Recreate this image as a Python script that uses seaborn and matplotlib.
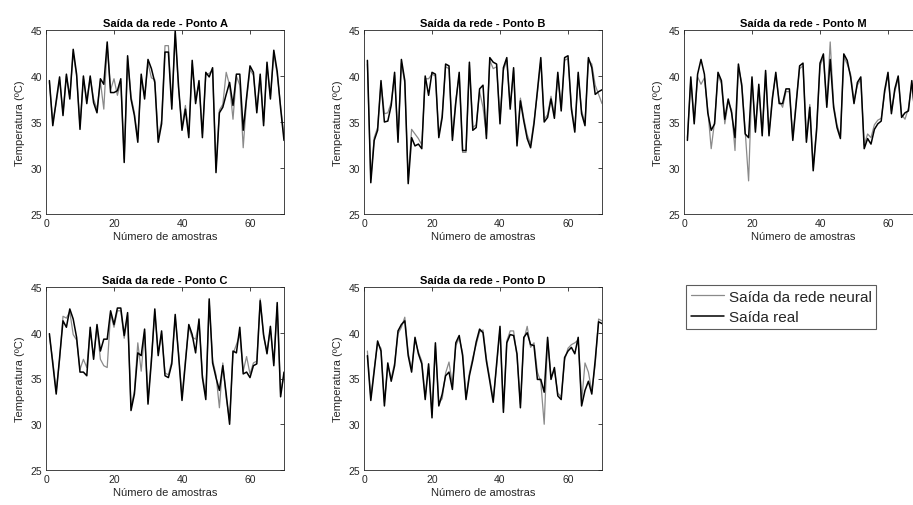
import matplotlib
matplotlib.use("Agg")
import matplotlib.pyplot as plt
import seaborn as sns

sns.set_style("white")
plt.rcParams['font.family'] = ['Liberation Sans', 'DejaVu Sans']

samples = list(range(1, 71))

real_A = [39.5, 34.6, 37.3, 39.9, 35.7, 40.2, 37.5, 42.9, 40.2, 34.2,
          40.0, 37.0, 40.0, 37.1, 36.0, 39.7, 39.1, 43.7, 38.2, 38.2,
          38.4, 39.7, 30.6, 42.2, 37.5, 35.7, 32.8, 40.2, 37.5, 41.8,
          40.8, 39.3, 32.8, 34.8, 42.6, 42.6, 36.4, 44.9, 38.8, 34.1,
          36.4, 33.3, 41.7, 37.0, 39.5, 33.3, 40.4, 39.9, 40.9, 29.5,
          36.0, 36.6, 38.0, 39.3, 36.8, 40.2, 40.2, 34.1, 37.7, 41.1,
          40.4, 36.0, 40.2, 34.6, 41.5, 37.5, 42.8, 40.5, 36.5, 33.0]
rede_A = [39.3, 35.0, 37.0, 39.6, 36.0, 40.0, 37.8, 42.5, 40.0, 34.6,
          39.7, 37.4, 39.8, 37.5, 36.4, 39.4, 36.4, 43.3, 38.5, 39.7,
          37.9, 39.4, 31.0, 41.9, 37.8, 36.0, 33.2, 39.8, 37.8, 41.4,
          39.8, 39.6, 33.2, 35.2, 43.3, 43.3, 36.8, 44.6, 38.5, 34.5,
          36.8, 33.7, 41.3, 37.4, 39.2, 33.7, 40.1, 40.3, 40.6, 30.0,
          36.3, 36.9, 40.4, 39.0, 35.3, 40.0, 39.0, 32.2, 37.4, 40.7,
          40.1, 36.4, 39.9, 35.0, 41.1, 37.8, 42.4, 40.2, 36.8, 33.4]

real_B = [41.7, 28.4, 33.0, 34.1, 39.5, 35.0, 35.1, 36.8, 40.4, 32.8,
          41.8, 39.5, 28.3, 33.3, 32.4, 32.6, 32.1, 40.0, 37.9, 40.4,
          40.2, 33.3, 35.5, 41.3, 41.1, 33.0, 37.1, 40.4, 31.9, 31.9,
          41.5, 34.1, 34.4, 38.6, 39.0, 33.2, 42.0, 41.5, 41.3, 34.8,
          40.9, 42.0, 36.4, 40.9, 32.4, 37.3, 35.1, 33.2, 32.2, 34.8,
          38.4, 42.0, 35.0, 35.5, 37.5, 35.4, 40.4, 36.2, 42.0, 42.2,
          36.4, 33.9, 40.4, 35.9, 34.6, 42.0, 40.9, 38.0, 38.3, 38.5]
rede_B = [41.3, 28.8, 33.3, 34.4, 39.2, 35.9, 36.0, 37.1, 40.1, 33.2,
          41.4, 39.2, 28.7, 34.2, 33.7, 33.2, 32.5, 39.7, 39.7, 40.2,
          40.0, 33.6, 35.8, 41.0, 40.8, 33.4, 37.4, 40.1, 31.7, 31.7,
          41.2, 34.4, 34.7, 38.3, 36.6, 33.6, 41.7, 40.8, 41.0, 35.2,
          40.6, 41.7, 36.7, 40.6, 32.8, 37.6, 35.4, 33.6, 32.6, 35.1,
          38.1, 41.7, 35.3, 35.8, 37.8, 35.7, 40.1, 36.5, 41.7, 41.9,
          36.7, 34.2, 40.1, 36.2, 34.9, 41.7, 41.3, 39.0, 38.0, 37.0]

real_M = [33.0, 39.9, 34.8, 40.2, 41.8, 40.2, 36.0, 34.1, 34.8, 40.4,
          39.5, 35.3, 37.5, 36.0, 33.3, 41.3, 38.9, 33.7, 33.3, 39.9,
          33.9, 39.1, 33.5, 40.6, 33.5, 37.5, 40.4, 37.0, 37.0, 38.6,
          38.6, 33.0, 37.0, 41.1, 41.4, 32.8, 36.6, 29.7, 34.1, 41.4,
          42.4, 36.6, 41.8, 36.6, 34.4, 33.2, 42.4, 41.7, 39.9, 37.0,
          39.3, 39.9, 32.1, 33.2, 32.6, 34.2, 34.8, 35.1, 38.4, 40.4,
          35.9, 38.6, 40.0, 35.5, 36.0, 36.2, 39.5, 35.5, 39.0, 37.5]
rede_M = [33.3, 39.6, 35.1, 39.9, 39.1, 39.8, 36.3, 32.1, 35.1, 40.1,
          39.2, 34.8, 37.2, 36.3, 31.9, 41.0, 39.2, 34.0, 28.6, 39.6,
          34.2, 38.8, 33.8, 40.3, 33.8, 37.8, 40.1, 37.3, 36.6, 38.3,
          38.3, 33.3, 37.3, 40.8, 41.1, 33.2, 36.9, 30.1, 34.4, 41.1,
          42.0, 36.9, 43.7, 36.9, 34.7, 33.5, 42.1, 41.3, 40.2, 37.3,
          39.0, 39.6, 32.5, 33.7, 33.3, 34.7, 35.2, 35.4, 38.1, 40.1,
          36.2, 38.3, 39.7, 35.8, 35.3, 36.5, 39.2, 35.8, 38.7, 37.8]

real_C = [39.9, 36.6, 33.3, 37.3, 41.3, 40.6, 42.6, 41.5, 39.5, 35.7,
          35.7, 35.3, 40.6, 37.1, 40.9, 38.0, 39.3, 39.3, 42.4, 40.9,
          42.7, 42.7, 39.7, 42.2, 31.5, 33.3, 37.8, 37.5, 40.4, 32.2,
          36.9, 42.6, 37.5, 40.2, 35.3, 35.1, 36.6, 42.0, 37.5, 32.6,
          36.7, 40.9, 39.8, 37.8, 41.5, 35.1, 32.7, 43.7, 36.7, 35.1,
          33.7, 36.4, 33.3, 30.0, 38.0, 37.8, 40.6, 35.5, 35.7, 35.1,
          36.4, 36.6, 43.5, 39.8, 37.7, 40.7, 36.4, 43.3, 33.0, 35.7]
rede_C = [39.6, 36.9, 33.6, 37.0, 41.8, 41.6, 42.3, 39.8, 39.2, 36.0,
          37.1, 36.2, 40.3, 37.4, 40.6, 37.1, 36.4, 36.2, 42.1, 40.6,
          42.4, 42.4, 39.4, 41.9, 31.9, 33.6, 38.9, 35.8, 40.1, 32.6,
          37.2, 42.3, 37.8, 39.9, 35.6, 35.4, 36.9, 41.7, 37.8, 33.0,
          37.0, 40.6, 39.5, 39.3, 41.2, 35.4, 33.1, 43.4, 37.0, 35.4,
          31.8, 36.7, 32.9, 30.4, 37.7, 38.7, 39.8, 35.8, 37.4, 35.5,
          36.7, 36.9, 43.7, 39.5, 38.0, 40.4, 36.7, 42.9, 33.4, 35.4]

real_D = [37.5, 32.6, 35.8, 39.1, 38.0, 32.0, 36.7, 34.7, 36.4, 40.2,
          40.9, 41.3, 37.5, 35.7, 39.5, 37.7, 36.6, 32.7, 36.6, 30.7,
          38.9, 32.0, 33.3, 35.3, 35.7, 33.8, 38.9, 39.7, 37.5, 32.7,
          35.3, 37.0, 39.0, 40.4, 40.0, 36.9, 34.7, 32.4, 36.6, 40.7,
          31.3, 38.9, 39.8, 39.7, 37.7, 31.8, 39.5, 40.0, 38.7, 38.6,
          34.9, 34.9, 33.5, 39.5, 34.9, 36.2, 33.1, 32.7, 37.3, 38.0,
          38.4, 37.7, 39.5, 32.0, 33.7, 34.7, 33.3, 37.0, 41.2, 41.0]
rede_D = [38.0, 32.9, 36.1, 38.8, 38.3, 32.4, 36.4, 35.0, 36.7, 39.9,
          40.6, 41.7, 37.8, 36.0, 39.2, 37.9, 36.9, 33.0, 36.3, 31.1,
          38.6, 32.3, 32.8, 35.6, 36.8, 34.3, 38.6, 39.4, 37.8, 33.0,
          35.6, 37.3, 38.7, 40.1, 40.3, 37.2, 35.0, 32.7, 36.3, 40.4,
          31.7, 39.1, 40.2, 40.2, 37.4, 32.2, 39.2, 40.7, 38.4, 38.9,
          35.7, 34.6, 30.0, 39.2, 35.2, 35.9, 33.4, 33.0, 37.0, 38.3,
          38.7, 38.9, 39.2, 32.4, 36.7, 35.7, 33.6, 36.5, 41.5, 41.3]

titles = ["Saída da rede - Ponto A", "Saída da rede - Ponto B",
          "Saída da rede - Ponto M", "Saída da rede - Ponto C",
          "Saída da rede - Ponto D"]
series = [(real_A, rede_A), (real_B, rede_B), (real_M, rede_M),
          (real_C, rede_C), (real_D, rede_D)]
xticks = [0, 20, 40, 60]
yticks = [25, 30, 35, 40, 45]
legend_labels = ["Saída da rede neural", "Saída real"]

W, H = 913, 506
fig = plt.figure(figsize=(W / 100, H / 100), dpi=100)

# axes boxes in pixels: (left, top, right, bottom)
boxes = [(46, 31, 284, 215), (364, 31, 602, 215), (684, 31, 922, 215),
         (46, 288, 284, 471), (364, 288, 602, 471)]

axc = '#262626'
gray = '#8a8a8a'
for (l, t, r, b), title, (real, rede) in zip(boxes, titles, series):
    ax = fig.add_axes([l / W, 1 - b / H, (r - l) / W, (b - t) / H])
    sns.lineplot(x=samples, y=rede, color=gray, lw=0.9, ax=ax)
    sns.lineplot(x=samples, y=real, color='black', lw=1.1, ax=ax)
    ax.set_xlim(0, 70)
    ax.set_ylim(25, 45)
    ax.set_xticks(xticks)
    ax.set_yticks(yticks)
    ax.tick_params(direction='in', top=True, right=True, length=3,
                   width=0.6, labelsize=7.5, colors=axc, pad=3)
    for s in ax.spines.values():
        s.set_color(axc)
        s.set_linewidth(0.6)
    ax.set_title(title, fontsize=8, fontweight='bold', pad=3, color='black')
    ax.set_xlabel("Número de amostras", fontsize=8, color=axc, labelpad=2)
    ax.set_ylabel("Temperatura (ºC)", fontsize=8, color=axc, labelpad=4)

h1 = plt.Line2D([], [], color=gray, lw=0.9)
h2 = plt.Line2D([], [], color='black', lw=1.1)
leg = fig.legend([h1, h2], legend_labels, loc='upper left',
                 bbox_to_anchor=(686 / W, 1 - 286 / H), borderaxespad=0,
                 fontsize=11, frameon=True, fancybox=False,
                 handlelength=2.2, handletextpad=0.3, borderpad=0.3,
                 labelspacing=0.45)
leg.get_frame().set_edgecolor('#333333')
leg.get_frame().set_linewidth(0.8)

fig.savefig("out.png", dpi=100)
